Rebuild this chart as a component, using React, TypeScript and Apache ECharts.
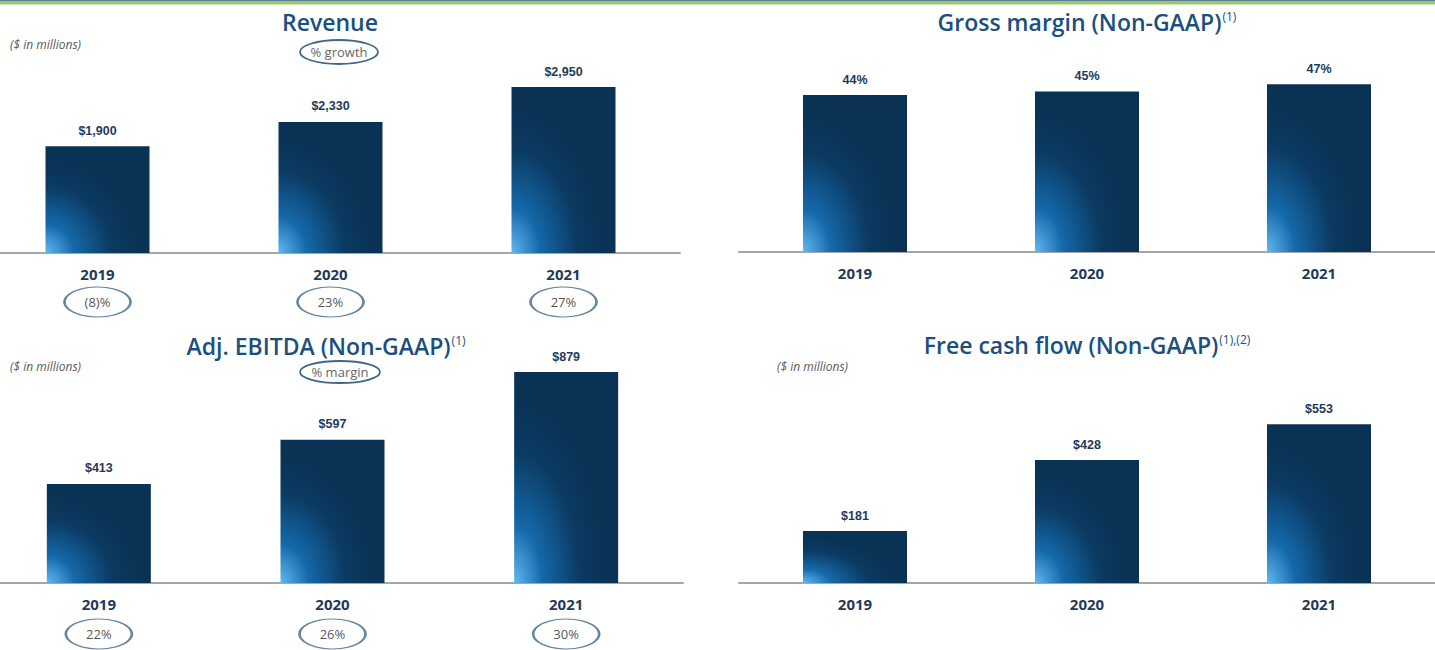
import React, { useEffect, useRef } from "react";
import * as echarts from "echarts";

const years = ["2019", "2020", "2021"];
const revenue = [1900, 2330, 2950];
const revenueGrowth = ["(8)%", "23%", "27%"];
const grossMargin = [44, 45, 47];
const ebitda = [413, 597, 879];
const ebitdaMargin = ["22%", "26%", "30%"];
const freeCashFlow = [181, 428, 553];

const NAVY = "#0A3254";
const TITLE = "#1B4F7E";
const YEAR = "#1F3A5A";
const OFF = 20; // the chart canvas starts 20px left of the page

const barGradient = () =>
  new echarts.graphic.RadialGradient(0, 1, 0.9, [
    { offset: 0, color: "#62B8F0" },
    { offset: 0.3, color: "#1569AA" },
    { offset: 0.7, color: "#0B3A62" },
    { offset: 1, color: NAVY },
  ]);

const money = (v: number) => "$" + v.toLocaleString("en-US");

export default function App() {
  const ref = useRef<HTMLDivElement>(null);
  useEffect(() => {
    if (!ref.current) return;
    const chart = echarts.init(ref.current, undefined, { renderer: "svg" });

    const grids = [
      { left: OFF - 19, width: 699, top: 28, height: 225 },
      { left: OFF + 739, width: 702, top: 38, height: 214 },
      { left: OFF - 18, width: 701, top: 343, height: 240 },
      { left: OFF + 739, width: 702, top: 382, height: 201 },
      { left: OFF - 19, width: 699, top: 287, height: 30 },
      { left: OFF - 18, width: 701, top: 619, height: 30 },
    ];
    const maxes = [4000, 60, 1000, 700];

    const xAxes: any[] = grids.map((_, i) =>
      i < 4
        ? {
            type: "category",
            gridIndex: i,
            data: years,
            axisLine: { lineStyle: { color: "#A6A6A6", width: 2 } },
            axisTick: { show: false },
            axisLabel: {
              margin: 13,
              color: YEAR,
              fontSize: 15,
              fontWeight: "bold",
              fontFamily: "Open Sans",
            },
          }
        : { type: "category", gridIndex: i, data: years, show: false }
    );
    const yAxes: any[] = grids.map((_, i) =>
      i < 4
        ? { type: "value", gridIndex: i, min: 0, max: maxes[i], show: false, splitLine: { show: false } }
        : { type: "value", gridIndex: i, min: -1, max: 1, show: false, splitLine: { show: false } }
    );

    const barSeries = (idx: number, data: number[], fmt: (v: number) => string) => ({
      type: "bar",
      xAxisIndex: idx,
      yAxisIndex: idx,
      data,
      barWidth: 104,
      itemStyle: { color: barGradient() },
      label: {
        show: true,
        position: "top",
        distance: 9,
        color: YEAR,
        fontSize: 12.5,
        fontWeight: "bold",
        fontFamily: "Liberation Sans, Arial",
        formatter: (p: any) => fmt(p.value),
      },
    });

    const ovalSeries = (idx: number, texts: string[]) => ({
      type: "scatter",
      xAxisIndex: idx,
      yAxisIndex: idx,
      symbol: "circle",
      symbolSize: [66, 30],
      data: texts.map((t, i) => ({ value: [i, 0], name: t })),
      itemStyle: { color: "#FFFFFF", borderColor: "#3F6788", borderWidth: 1.8 },
      label: {
        show: true,
        position: "inside",
        color: "#262626",
        fontSize: 13,
        fontFamily: "Open Sans",
        formatter: (p: any) => p.name,
      },
    });

    const titleText = (x: number, y: number, main: string, sup: string) => ({
      type: "text",
      x: x + OFF,
      y,
      style: {
        text: sup ? `{m|${main}}{s|${sup}}` : `{m|${main}}`,
        align: "center",
        verticalAlign: "middle",
        fill: TITLE,
        rich: {
          m: { fontSize: 23, fontWeight: 600, fontFamily: "Open Sans", fill: TITLE },
          s: { fontSize: 12, fontFamily: "Open Sans", fill: TITLE, padding: [0, 0, 12, 1] },
        },
      },
    });

    const note = (x: number, y: number) => ({
      type: "text",
      x: x + OFF,
      y,
      style: {
        text: "($ in millions)",
        fill: "#595959",
        fontSize: 12,
        fontStyle: "italic",
        fontFamily: "Open Sans",
        verticalAlign: "middle",
      },
    });

    const pill = (cx: number, cy: number, rx: number, ry: number, label: string) => ({
      type: "group",
      children: [
        {
          type: "ellipse",
          shape: { cx: cx + OFF, cy, rx, ry },
          style: { fill: "#FFFFFF", stroke: "#3F6788", lineWidth: 1.8 },
        },
        {
          type: "text",
          x: cx + OFF,
          y: cy,
          style: {
            text: label,
            fill: "#666666",
            fontSize: 13,
            fontFamily: "Open Sans",
            align: "center",
            verticalAlign: "middle",
          },
        },
      ],
    });

    chart.setOption({
      animation: false,
      grid: grids.map((g) => ({ ...g, containLabel: false })),
      xAxis: xAxes,
      yAxis: yAxes,
      series: [
        barSeries(0, revenue, money),
        barSeries(1, grossMargin, (v) => v + "%"),
        barSeries(2, ebitda, money),
        barSeries(3, freeCashFlow, money),
        ovalSeries(4, revenueGrowth),
        ovalSeries(5, ebitdaMargin),
      ],
      graphic: [
        { type: "rect", shape: { x: 0, y: 0, width: 1500, height: 1 }, style: { fill: "#5B7A95" } },
        { type: "rect", shape: { x: 0, y: 1, width: 1500, height: 1 }, style: { fill: "#9DB5C8" } },
        { type: "rect", shape: { x: 0, y: 2, width: 1500, height: 2 }, style: { fill: "#98C66A" } },
        { type: "rect", shape: { x: 0, y: 4, width: 1500, height: 1 }, style: { fill: "#CFE5AE" } },
        titleText(330, 22, "Revenue", ""),
        titleText(1087, 22, "Gross margin (Non-GAAP)", "(1)"),
        titleText(326, 346, "Adj. EBITDA (Non-GAAP)", "(1)"),
        titleText(1087, 345, "Free cash flow (Non-GAAP)", "(1),(2)"),
        note(10, 44),
        note(10, 366),
        note(777, 366),
        pill(339, 52, 39, 12, "% growth"),
        pill(340, 372, 40, 11, "% margin"),
      ],
    });
    return () => chart.dispose();
  }, []);
  return (
    <div
      ref={ref}
      style={{ position: "fixed", left: -OFF, top: 0, width: 1435 + OFF, height: 650, background: "#FFFFFF" }}
    />
  );
}
